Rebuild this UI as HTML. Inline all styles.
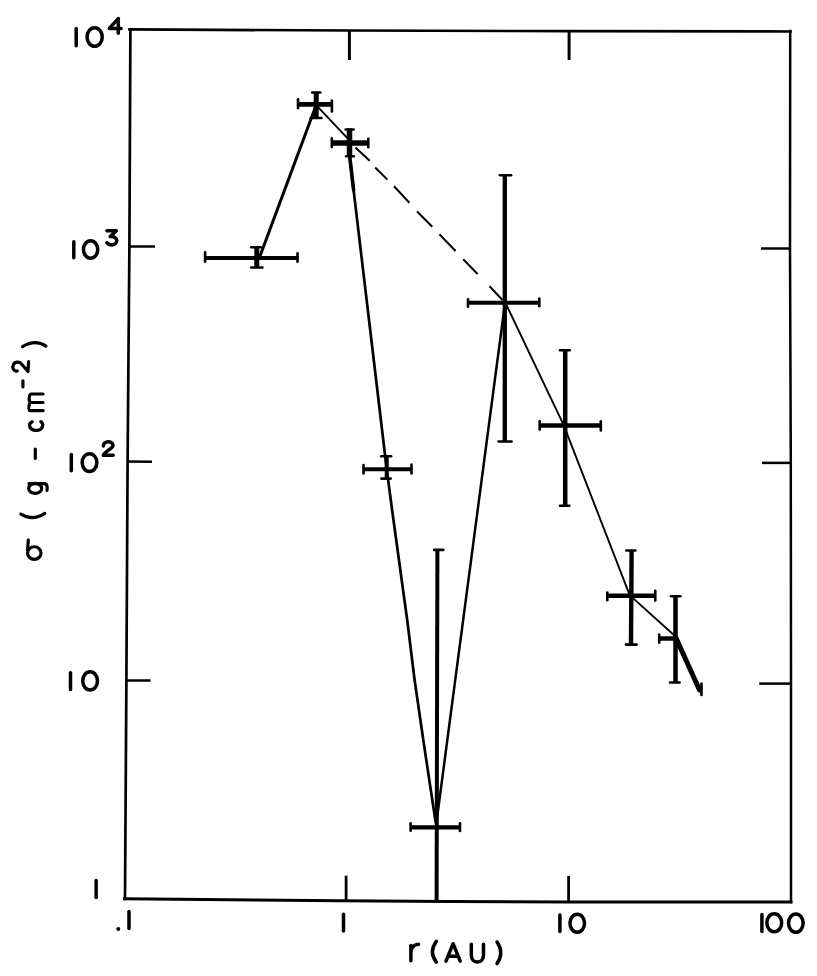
<!DOCTYPE html>
<html>
<head>
<meta charset="utf-8">
<style>
html,body{margin:0;padding:0;background:#fff;}
body{width:817px;height:976px;overflow:hidden;font-family:"Liberation Sans",sans-serif;}
svg{display:block;}
</style>
</head>
<body>
<svg width="817" height="976" viewBox="0 0 817 976">
<rect width="817" height="976" fill="#fff"/>
<g fill="none" stroke="#000" stroke-linecap="square">
<!-- frame -->
<polyline points="129.5,29.4 350,30.5 570,31.2 790.5,31.5" stroke-width="2.7"/>
<polyline points="130.4,29.5 129.4,246 127.6,461 126.4,680 125,899" stroke-width="2.7"/>
<polyline points="124.5,898.8 340,900.8 450,901.5 570,902 791,902" stroke-width="3"/>
<polyline points="790.2,31 790,248 790.8,463 791,683 791,902" stroke-width="2.5"/>
</g>
<g fill="none" stroke="#000" stroke-linecap="butt" stroke-width="2.5">
<!-- left ticks -->
<line x1="129" y1="246.4" x2="155" y2="246.6"/>
<line x1="127.5" y1="461.6" x2="152" y2="461.8"/>
<line x1="126.5" y1="680.4" x2="150.6" y2="680.6"/>
<!-- right ticks -->
<line x1="761" y1="248.5" x2="790" y2="248.5"/>
<line x1="761.9" y1="462.9" x2="790.8" y2="462.9"/>
<line x1="759.2" y1="683.6" x2="791" y2="683.6"/>
<!-- top ticks -->
<line x1="349.4" y1="30.5" x2="349.4" y2="60" stroke-width="3"/>
<line x1="569.1" y1="31" x2="569.1" y2="60" stroke-width="3"/>
<!-- bottom ticks -->
<line x1="346.1" y1="875.7" x2="346.1" y2="900.5" stroke-width="2.8"/>
<line x1="568.6" y1="875.9" x2="568.6" y2="901.5" stroke-width="2.8"/>
</g>

<!-- labels: Leroy-style strokes -->
<g fill="none" stroke="#000" stroke-linecap="round" stroke-linejoin="round" stroke-width="3.5">
<!-- 10^4 -->
<line x1="76.2" y1="28.5" x2="76.2" y2="45.7"/>
<ellipse cx="94.65" cy="36.95" rx="7.6" ry="9.3"/>
<path d="M118.3 33.2 L118.3 18.6 L109.3 28.4 L121.1 28.4"/>
<!-- 10^3 -->
<line x1="73.8" y1="241.8" x2="73.8" y2="257.8"/>
<ellipse cx="90.6" cy="249.5" rx="7.15" ry="8.75"/>
<path d="M106.9 230.8 L116.3 230.8 L110.2 236.6 C114.5 236.2 116.8 238.5 116.8 240.6 C116.8 243.2 114.5 245 111.6 245 C109.5 245 107.8 244.1 106.9 242.8"/>
<!-- 10^2 -->
<line x1="71.3" y1="454.4" x2="71.3" y2="470.8"/>
<ellipse cx="89.5" cy="462.55" rx="7.35" ry="8.9"/>
<path d="M103.3 446 C103.3 443.3 105.5 441.7 108.2 441.7 C111 441.7 113 443.3 113 445.5 C113 448.5 105 451 103.3 455.3 L113.2 455.3"/>
<!-- 10 -->
<line x1="70.5" y1="672.8" x2="70.5" y2="689.4"/>
<ellipse cx="90.1" cy="680.9" rx="7.35" ry="9.15"/>
<!-- 1 -->
<line x1="96.15" y1="880.6" x2="96.15" y2="897.6"/>
<!-- x labels -->
<line x1="129" y1="911.5" x2="129" y2="928.5"/>
<line x1="343.5" y1="914.2" x2="343.5" y2="931"/>
<line x1="559.9" y1="915" x2="559.9" y2="931.6"/>
<ellipse cx="577.25" cy="923.2" rx="7.3" ry="9.05"/>
<line x1="761.9" y1="914.6" x2="761.9" y2="931.4"/>
<ellipse cx="774.25" cy="922.8" rx="7.4" ry="9.05"/>
<ellipse cx="795.85" cy="923.1" rx="7.3" ry="9.15"/>
<!-- r (AU) -->
<line x1="410.9" y1="945.5" x2="410.9" y2="960.8"/>
<path d="M411 951 C412 946.5 415 944.5 418.5 944.3"/>
<path d="M436.5 941.3 Q428.5 951.7 436.3 962.2"/>
<path d="M446 961.2 L453.1 943.7 L460.2 961.2 M448.8 956.3 L457.4 956.3"/>
<path d="M471.3 944.3 L471.3 955 C471.3 964.3 483.5 964.3 483.5 955 L483.5 944.3"/>
<path d="M497 942 Q504.5 952.7 497 963.5"/>
</g>
<circle cx="118.3" cy="929" r="2" fill="#000"/>

<!-- y axis title (rotated) -->
<g fill="none" stroke="#000" stroke-linecap="round" stroke-linejoin="round" stroke-width="3.2">
<!-- sigma -->
<ellipse cx="34.3" cy="553.05" rx="6.75" ry="6.3"/>
<path d="M28.3 540 L27.6 550"/>
<!-- ( -->
<path d="M20.8 514 Q32.5 521.5 44.8 513.4"/>
<!-- g -->
<ellipse cx="35.2" cy="488.4" rx="6.5" ry="5"/>
<path d="M29 483.6 L44 483.6 C46.5 483.6 47.2 485.5 47.2 487.5 L47 490.5"/>
<!-- - -->
<line x1="35.3" y1="449" x2="35.3" y2="458.5"/>
<!-- c -->
<path d="M32.2 421.8 C28 423.5 28.5 430.3 36.2 430.3 C43.5 430.3 44 423.5 40.8 421.6"/>
<!-- m -->
<path d="M43.2 410.6 L30 410.6 C28.5 410.6 28.5 402.5 31 402.5 L43 402.5 M31 402.5 C28.5 402.5 28.5 394 31.5 394 L43 394"/>
<!-- superscript - -->
<line x1="22.9" y1="380.8" x2="22.9" y2="386.8"/>
<!-- superscript 2 -->
<path d="M17.3 371 C13 371.5 12 367 13.5 364.5 C15 361.5 19.5 361.5 21.5 364 L28 371.5 L28.6 361.5"/>
<!-- ) -->
<path d="M22.5 346.7 Q35.1 339 45.9 346.1"/>
</g>

<!-- data lines -->
<g fill="none" stroke="#000" stroke-linecap="round" stroke-linejoin="round">
<line x1="259.3" y1="258" x2="316.4" y2="104.5" stroke-width="3"/>
<line x1="316.4" y1="105.4" x2="349.5" y2="140.4" stroke-width="1.9"/>
<polyline points="348.6,148 386.7,469 392.1,510 407.2,620 414.6,680 423.3,740 430.8,790 435.6,822" stroke-width="2.7"/>
<line x1="349.2" y1="152" x2="353.6" y2="190" stroke-width="3.6"/>
<line x1="436.5" y1="822" x2="505" y2="303" stroke-width="2.5"/>
<polyline points="505.5,303 563.8,425.4 630,595.8 631,596.4 675,636" stroke-width="1.9"/>
<line x1="676" y1="638" x2="699.5" y2="690" stroke-width="5"/>
<line x1="701.5" y1="683.5" x2="701.5" y2="695" stroke-width="2.6"/>
</g>
<!-- dashed line -->
<g fill="none" stroke="#000" stroke-width="2" stroke-linecap="butt">
<line x1="355.4" y1="147.6" x2="369.7" y2="160.8"/>
<line x1="375.2" y1="167.5" x2="387.4" y2="179.6"/>
<line x1="394" y1="186.2" x2="409.4" y2="202.7"/>
<line x1="417.1" y1="211.5" x2="432.3" y2="226.7"/>
<line x1="439.4" y1="234.3" x2="455.6" y2="251"/>
<line x1="463.2" y1="259.3" x2="477.6" y2="274"/>
<line x1="489.5" y1="286.2" x2="502.5" y2="300"/>
</g>

<!-- error bars -->
<g fill="none" stroke="#000" stroke-linecap="butt">
<!-- P1 -->
<line x1="204" y1="258.1" x2="298.5" y2="258.1" stroke-width="4"/>
<line x1="256.8" y1="247" x2="256.8" y2="268" stroke-width="5"/>
<!-- P2 -->
<line x1="297" y1="104.4" x2="332.5" y2="104.4" stroke-width="4.6"/>
<line x1="316.2" y1="92" x2="316.2" y2="118.5" stroke-width="5"/>
<!-- P3 -->
<line x1="331" y1="143" x2="369" y2="143" stroke-width="5.5"/>
<line x1="349.5" y1="128.5" x2="349.5" y2="157" stroke-width="5.5"/>
<!-- P4 -->
<line x1="363" y1="469.2" x2="412" y2="469.2" stroke-width="4"/>
<line x1="386.7" y1="456.3" x2="386.7" y2="478.6" stroke-width="4"/>
<!-- P5 -->
<line x1="467.5" y1="302.8" x2="540" y2="302.8" stroke-width="4"/>
<line x1="504.8" y1="175" x2="504.8" y2="441.5" stroke-width="4.3"/>
<!-- P6 -->
<line x1="539" y1="425.4" x2="601.5" y2="425.4" stroke-width="4.5"/>
<line x1="565.2" y1="350.3" x2="565.2" y2="505.8" stroke-width="4.5"/>
<!-- P7 -->
<line x1="606.8" y1="595.8" x2="656" y2="595.8" stroke-width="4.4"/>
<line x1="631.6" y1="550.5" x2="631" y2="645" stroke-width="4.4"/>
<!-- P8 -->
<line x1="659" y1="638.5" x2="675.4" y2="638.5" stroke-width="4.5"/>
<line x1="675.5" y1="596" x2="675.5" y2="683" stroke-width="4.5"/>
<!-- P9 -->
<line x1="410.2" y1="827.3" x2="460.5" y2="827.3" stroke-width="4.3"/>
<line x1="437.4" y1="550" x2="436.6" y2="900" stroke-width="4"/>
</g>
<!-- caps -->
<g fill="none" stroke="#000" stroke-linecap="round" stroke-width="2.6">
<!-- P1 -->
<line x1="205.1" y1="252.2" x2="205.1" y2="261.8"/>
<line x1="297.5" y1="253.4" x2="297.5" y2="261.8"/>
<line x1="251.2" y1="247.3" x2="260.8" y2="247.3"/>
<line x1="251.2" y1="267.5" x2="262.4" y2="267.5"/>
<!-- P2 -->
<line x1="298" y1="99.2" x2="298" y2="108.2"/>
<line x1="331.9" y1="100.5" x2="331.9" y2="111.5"/>
<line x1="312.2" y1="92.5" x2="320.3" y2="92.5"/>
<line x1="310.7" y1="118" x2="321.5" y2="118"/>
<!-- P3 -->
<line x1="331.8" y1="138.4" x2="331.8" y2="147"/>
<line x1="368.3" y1="138.7" x2="368.3" y2="147.3"/>
<line x1="345.7" y1="129.5" x2="353.6" y2="129.5"/>
<line x1="346.2" y1="156.3" x2="353.8" y2="156.3"/>
<!-- P4 -->
<line x1="363.5" y1="465" x2="363.5" y2="473.4"/>
<line x1="411.5" y1="464.5" x2="411.5" y2="473.4"/>
<line x1="381.2" y1="456.3" x2="391.1" y2="456.3"/>
<line x1="381.4" y1="478.6" x2="390.7" y2="478.6"/>
<!-- P5 -->
<line x1="468" y1="299.4" x2="468" y2="306.8"/>
<line x1="539.3" y1="298.5" x2="539.3" y2="306.3"/>
<line x1="500" y1="175.3" x2="511.1" y2="175.3"/>
<line x1="498.5" y1="441.5" x2="511.5" y2="441.5"/>
<!-- P6 -->
<line x1="539.7" y1="421.2" x2="539.7" y2="429.6"/>
<line x1="600.8" y1="421.2" x2="600.8" y2="430.4"/>
<line x1="560" y1="350.3" x2="569.8" y2="350.3"/>
<line x1="560" y1="505.8" x2="569.3" y2="505.8"/>
<!-- P7 -->
<line x1="607.3" y1="592.5" x2="607.3" y2="600.2"/>
<line x1="655.3" y1="590.8" x2="655.3" y2="600.6"/>
<line x1="626.3" y1="550.5" x2="635.4" y2="550.5"/>
<line x1="626" y1="644.6" x2="636.7" y2="644.6"/>
<!-- P8 -->
<line x1="659.2" y1="634.6" x2="659.2" y2="642.8"/>
<line x1="671" y1="596.3" x2="680.4" y2="596.3"/>
<line x1="670.1" y1="682.5" x2="679.6" y2="682.5"/>
<!-- P9 -->
<line x1="410.6" y1="823.2" x2="410.6" y2="830.8"/>
<line x1="460" y1="823.2" x2="460" y2="831"/>
<line x1="434.2" y1="549.9" x2="443.4" y2="549.9"/>
</g>
</svg>
</body>
</html>
